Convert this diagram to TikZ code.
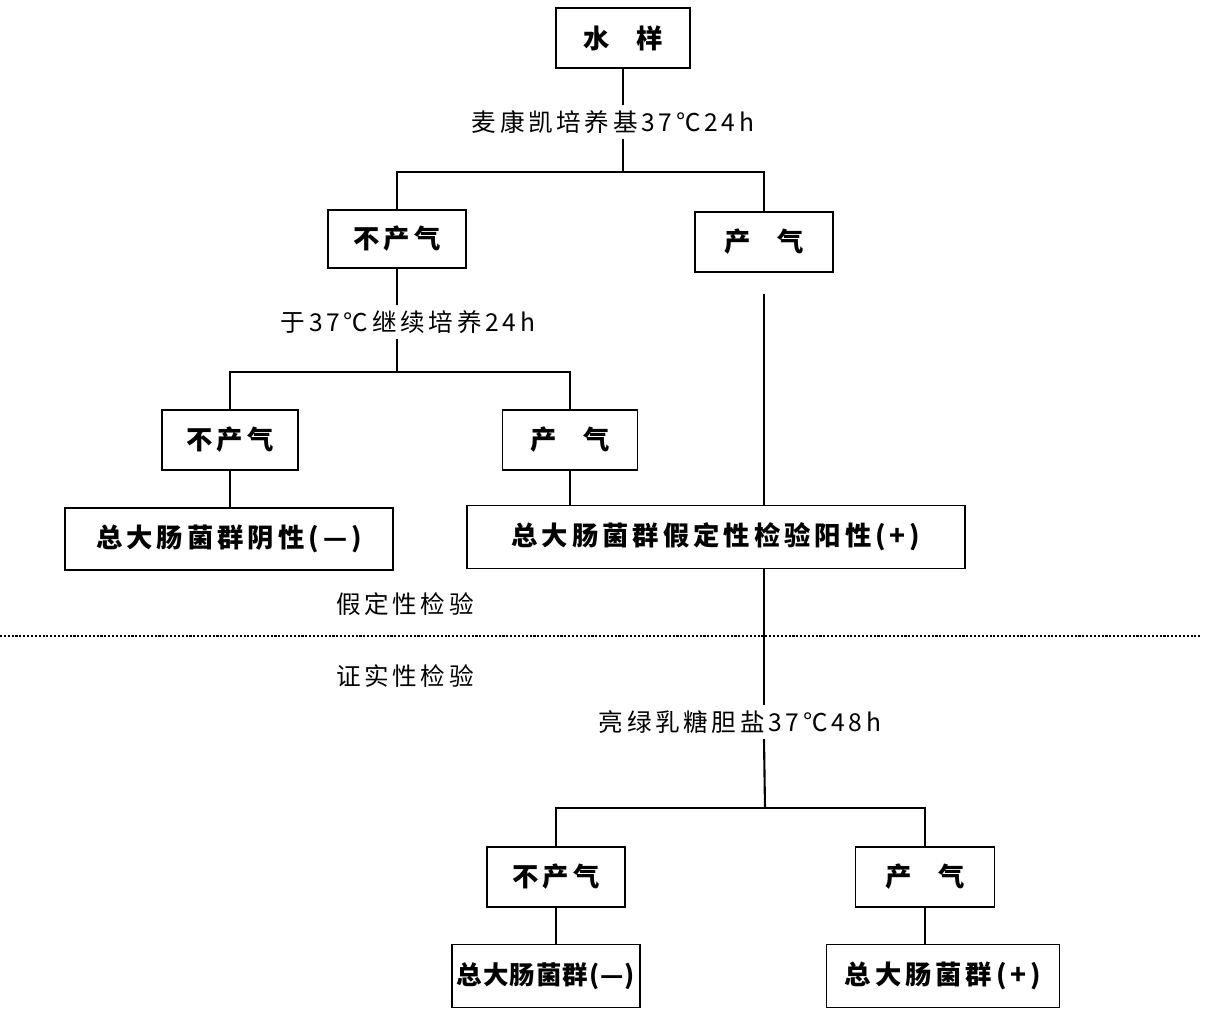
\documentclass[tikz,border=0pt]{standalone}
\usepackage{fontspec}
\newfontfamily\cjk{Noto Sans CJK SC}[LetterSpace=15]
\newfontfamily\cjktight{Noto Sans CJK SC}[LetterSpace=4]

\tikzset{
  box/.style={draw, line width=1pt, minimum height=1.2cm, inner sep=0pt, font=\cjk\fontsize{15}{18}\selectfont\bfseries},
  tightbox/.style={box, font=\cjktight\fontsize{14.5}{18}\selectfont\bfseries},
  note/.style={font=\cjk\fontsize{14}{17}\selectfont, inner sep=3pt},
  link/.style={line width=1.2pt},
}

\begin{document}
\begin{tikzpicture}[x=0.02cm, y=-0.02cm]
\useasboundingbox (0,0) rectangle (1221,1012);

% presumptive test
\node[box, minimum width=2.68cm] (sample) at (623,38) {水\quad 样};
\node[note] (mac) at (613,122) {麦康凯培养基37℃24h};
\coordinate (split1) at (623,172);
\node[box, minimum width=2.76cm, minimum height=1.16cm] (neg1) at (397,239) {不产气};
\node[box, minimum width=2.76cm] (pos1) at (764,242) {产\quad 气};
\node[note] (cont) at (408,322) {于37℃继续培养24h};
\coordinate (split2) at (397,372);
\node[box, minimum width=2.72cm] (neg2) at (230,440) {不产气};
\node[box, minimum width=2.7cm] (pos2) at (570,440) {产\quad 气};
\node[box, minimum width=6.56cm, minimum height=1.24cm] (negres) at (229,539) {总大肠菌群阴性(—)};
\node[box, minimum width=9.96cm, minimum height=1.26cm] (posres) at (716,537) {总大肠菌群假定性检验阳性(+)};

\draw[link] (sample.south) -- (sample.south |- mac.north);
\draw[link] (sample.south |- mac.south) -- (split1);
\draw[link] (neg1.north) -- (neg1.north |- split1) -- (pos1.north |- split1) -- (pos1.north);
\draw[link] (neg1.south) -- (neg1.south |- cont.north);
\draw[link] (neg1.south |- cont.south) -- (split2);
\draw[link] (neg2.north) -- (neg2.north |- split2) -- (pos2.north |- split2) -- (pos2.north);
\draw[link] (neg2.south) -- (neg2.south |- negres.north);
\draw[link] (pos2.south) -- (pos2.south |- posres.north);
\draw[link, shorten <=12] (pos1.south) -- (pos1.south |- posres.north);

% divider
\node[note] (presume) at (405,604) {假定性检验};
\node[note] (confirm) at (405,676) {证实性检验};
\draw[line width=1.5pt, dash pattern=on 1.2pt off 1pt] (0,636) -- (1200,636);

% confirmed test
\node[note] (bglb) at (740,722) {亮绿乳糖胆盐37℃48h};
\coordinate (split3) at (765,808);
\node[box, minimum width=2.76cm] (neg3) at (556,877) {不产气};
\node[box, minimum width=2.78cm] (pos3) at (925,877) {产\quad 气};
\node[tightbox, minimum width=3.76cm, minimum height=1.26cm] (negfin) at (546,976) {总大肠菌群(—)};
\node[box, minimum width=4.66cm, minimum height=1.26cm] (posfin) at (943,976) {总大肠菌群(+)};

\draw[link] (pos1.south |- posres.south) -- (pos1.south |- bglb.north);
\draw[link] (pos1.south |- bglb.south) -- (split3);
\draw[link] (neg3.north) -- (neg3.north |- split3) -- (pos3.north |- split3) -- (pos3.north);
\draw[link] (neg3.south) -- (neg3.south |- negfin.north);
\draw[link] (pos3.south) -- (pos3.south |- posfin.north);

\end{tikzpicture}
\end{document}
